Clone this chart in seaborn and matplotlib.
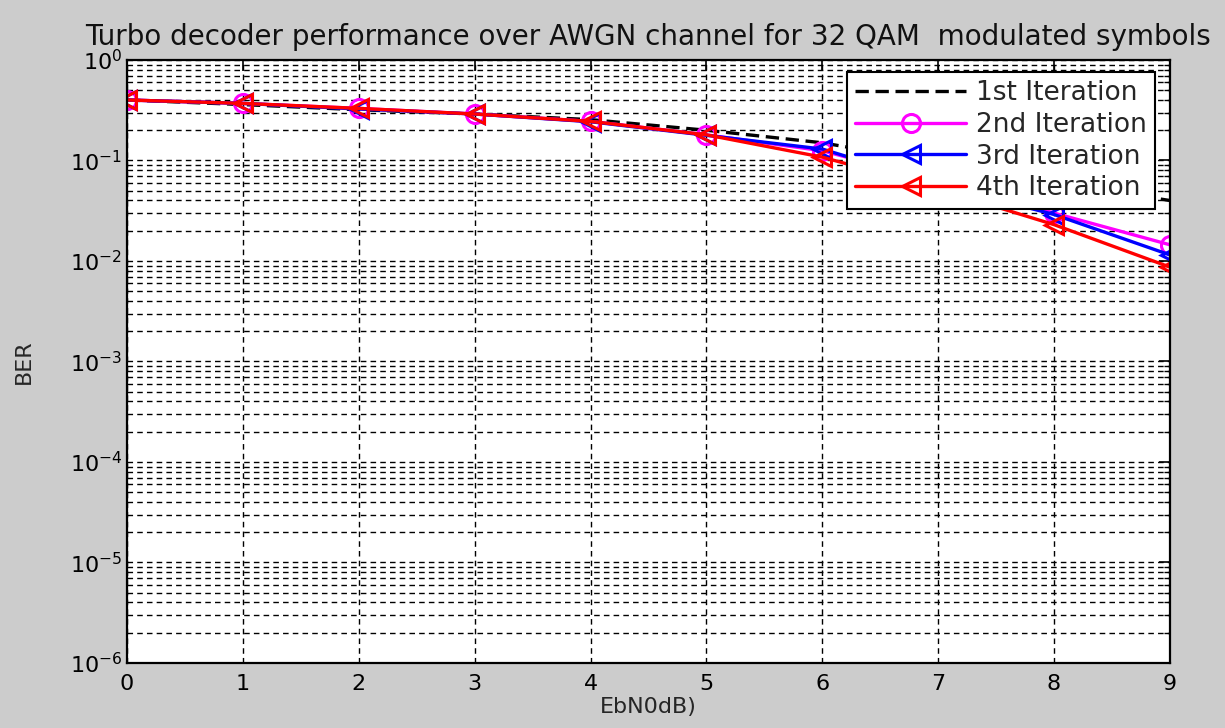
import numpy as np
import pandas as pd
import matplotlib
matplotlib.use("Agg")
import matplotlib.pyplot as plt
import seaborn as sns
from matplotlib.ticker import LogLocator, FixedLocator, NullFormatter

ebn0 = [0, 1, 2, 3, 4, 5, 6, 7, 8, 9]
ber_it1 = [0.40, 0.36, 0.32, 0.29, 0.255, 0.20, 0.15, 0.095, 0.06, 0.040]
ber_it2 = [0.40, 0.37, 0.33, 0.29, 0.245, 0.18, 0.125, 0.062, 0.030, 0.0145]
ber_it3 = [0.40, 0.37, 0.325, 0.29, 0.243, 0.178, 0.13, 0.058, 0.029, 0.0115]
ber_it4 = [0.40, 0.37, 0.33, 0.29, 0.245, 0.18, 0.108, 0.052, 0.023, 0.0087]
labels = ["1st Iteration", "2nd Iteration", "3rd Iteration", "4th Iteration"]
title = "Turbo decoder performance over AWGN channel for 32 QAM  modulated symbols"

sns.set_style("white")
plt.rcParams['font.family'] = ['DejaVu Sans']

fig = plt.figure(figsize=(12.25, 7.28), dpi=100, facecolor="#cccccc")
ax = fig.add_axes([0.1037, 0.0893, 0.8513, 0.8283])
ax.set_facecolor("white")

styles = [
    dict(color="black", linestyle="--", marker=None),
    dict(color="#ff00ff", linestyle="-", marker="o"),
    dict(color="#0000ff", linestyle="-", marker="<"),
    dict(color="#ff0000", linestyle="-", marker="<"),
]
series = [ber_it1, ber_it2, ber_it3, ber_it4]
for vals, lab, st in zip(series, labels, styles):
    if st["marker"]:
        sns.lineplot(x=ebn0, y=vals, ax=ax, color=st["color"], marker=st["marker"],
                     markersize=13, markerfacecolor="none", markeredgecolor=st["color"],
                     markeredgewidth=2.2, linewidth=2.4, label=lab)
    else:
        sns.lineplot(x=ebn0, y=vals, ax=ax, color=st["color"], linewidth=2.4,
                     linestyle=(0, (4, 2)), label=lab)

ax.set_yscale("log")
ax.set_xlim(0, 9)
ax.set_ylim(1e-6, 1)
ax.xaxis.set_major_locator(FixedLocator(ebn0))
ax.yaxis.set_major_locator(LogLocator(base=10, numticks=10))
ax.yaxis.set_minor_locator(LogLocator(base=10, subs=np.arange(2, 10), numticks=20))
ax.yaxis.set_minor_formatter(NullFormatter())

grid_kw = dict(color="black", linestyle=(0, (4, 3)), linewidth=1.0)
ax.grid(True, which="major", axis="both", **grid_kw)
ax.grid(True, which="minor", axis="y", **grid_kw)
ax.set_axisbelow(True)

ax.tick_params(axis="both", which="both", direction="in", top=True, right=True,
               labelsize=16, colors="black")
ax.tick_params(axis="both", which="major", length=8, width=1.2)
ax.tick_params(axis="y", which="minor", length=4, width=1.0)
ax.tick_params(axis="x", which="major", pad=8)
for s in ax.spines.values():
    s.set_visible(True)
    s.set_color("black")
    s.set_linewidth(1.6)

ax.set_title(title, fontsize=20, pad=11, color="#111111")
ax.set_xlabel("EbN0dB)", fontsize=16, labelpad=2)
ax.set_ylabel("BER", fontsize=16, labelpad=26)

leg = ax.legend(loc="upper right", bbox_to_anchor=(0.986, 0.98), borderaxespad=0,
                fontsize=19, frameon=True, fancybox=False, edgecolor="black",
                framealpha=1, handlelength=4.2, borderpad=0.3, labelspacing=0.22,
                handletextpad=0.4)
leg.get_frame().set_linewidth(1.5)

fig.savefig("out.png", dpi=100, facecolor=fig.get_facecolor())
